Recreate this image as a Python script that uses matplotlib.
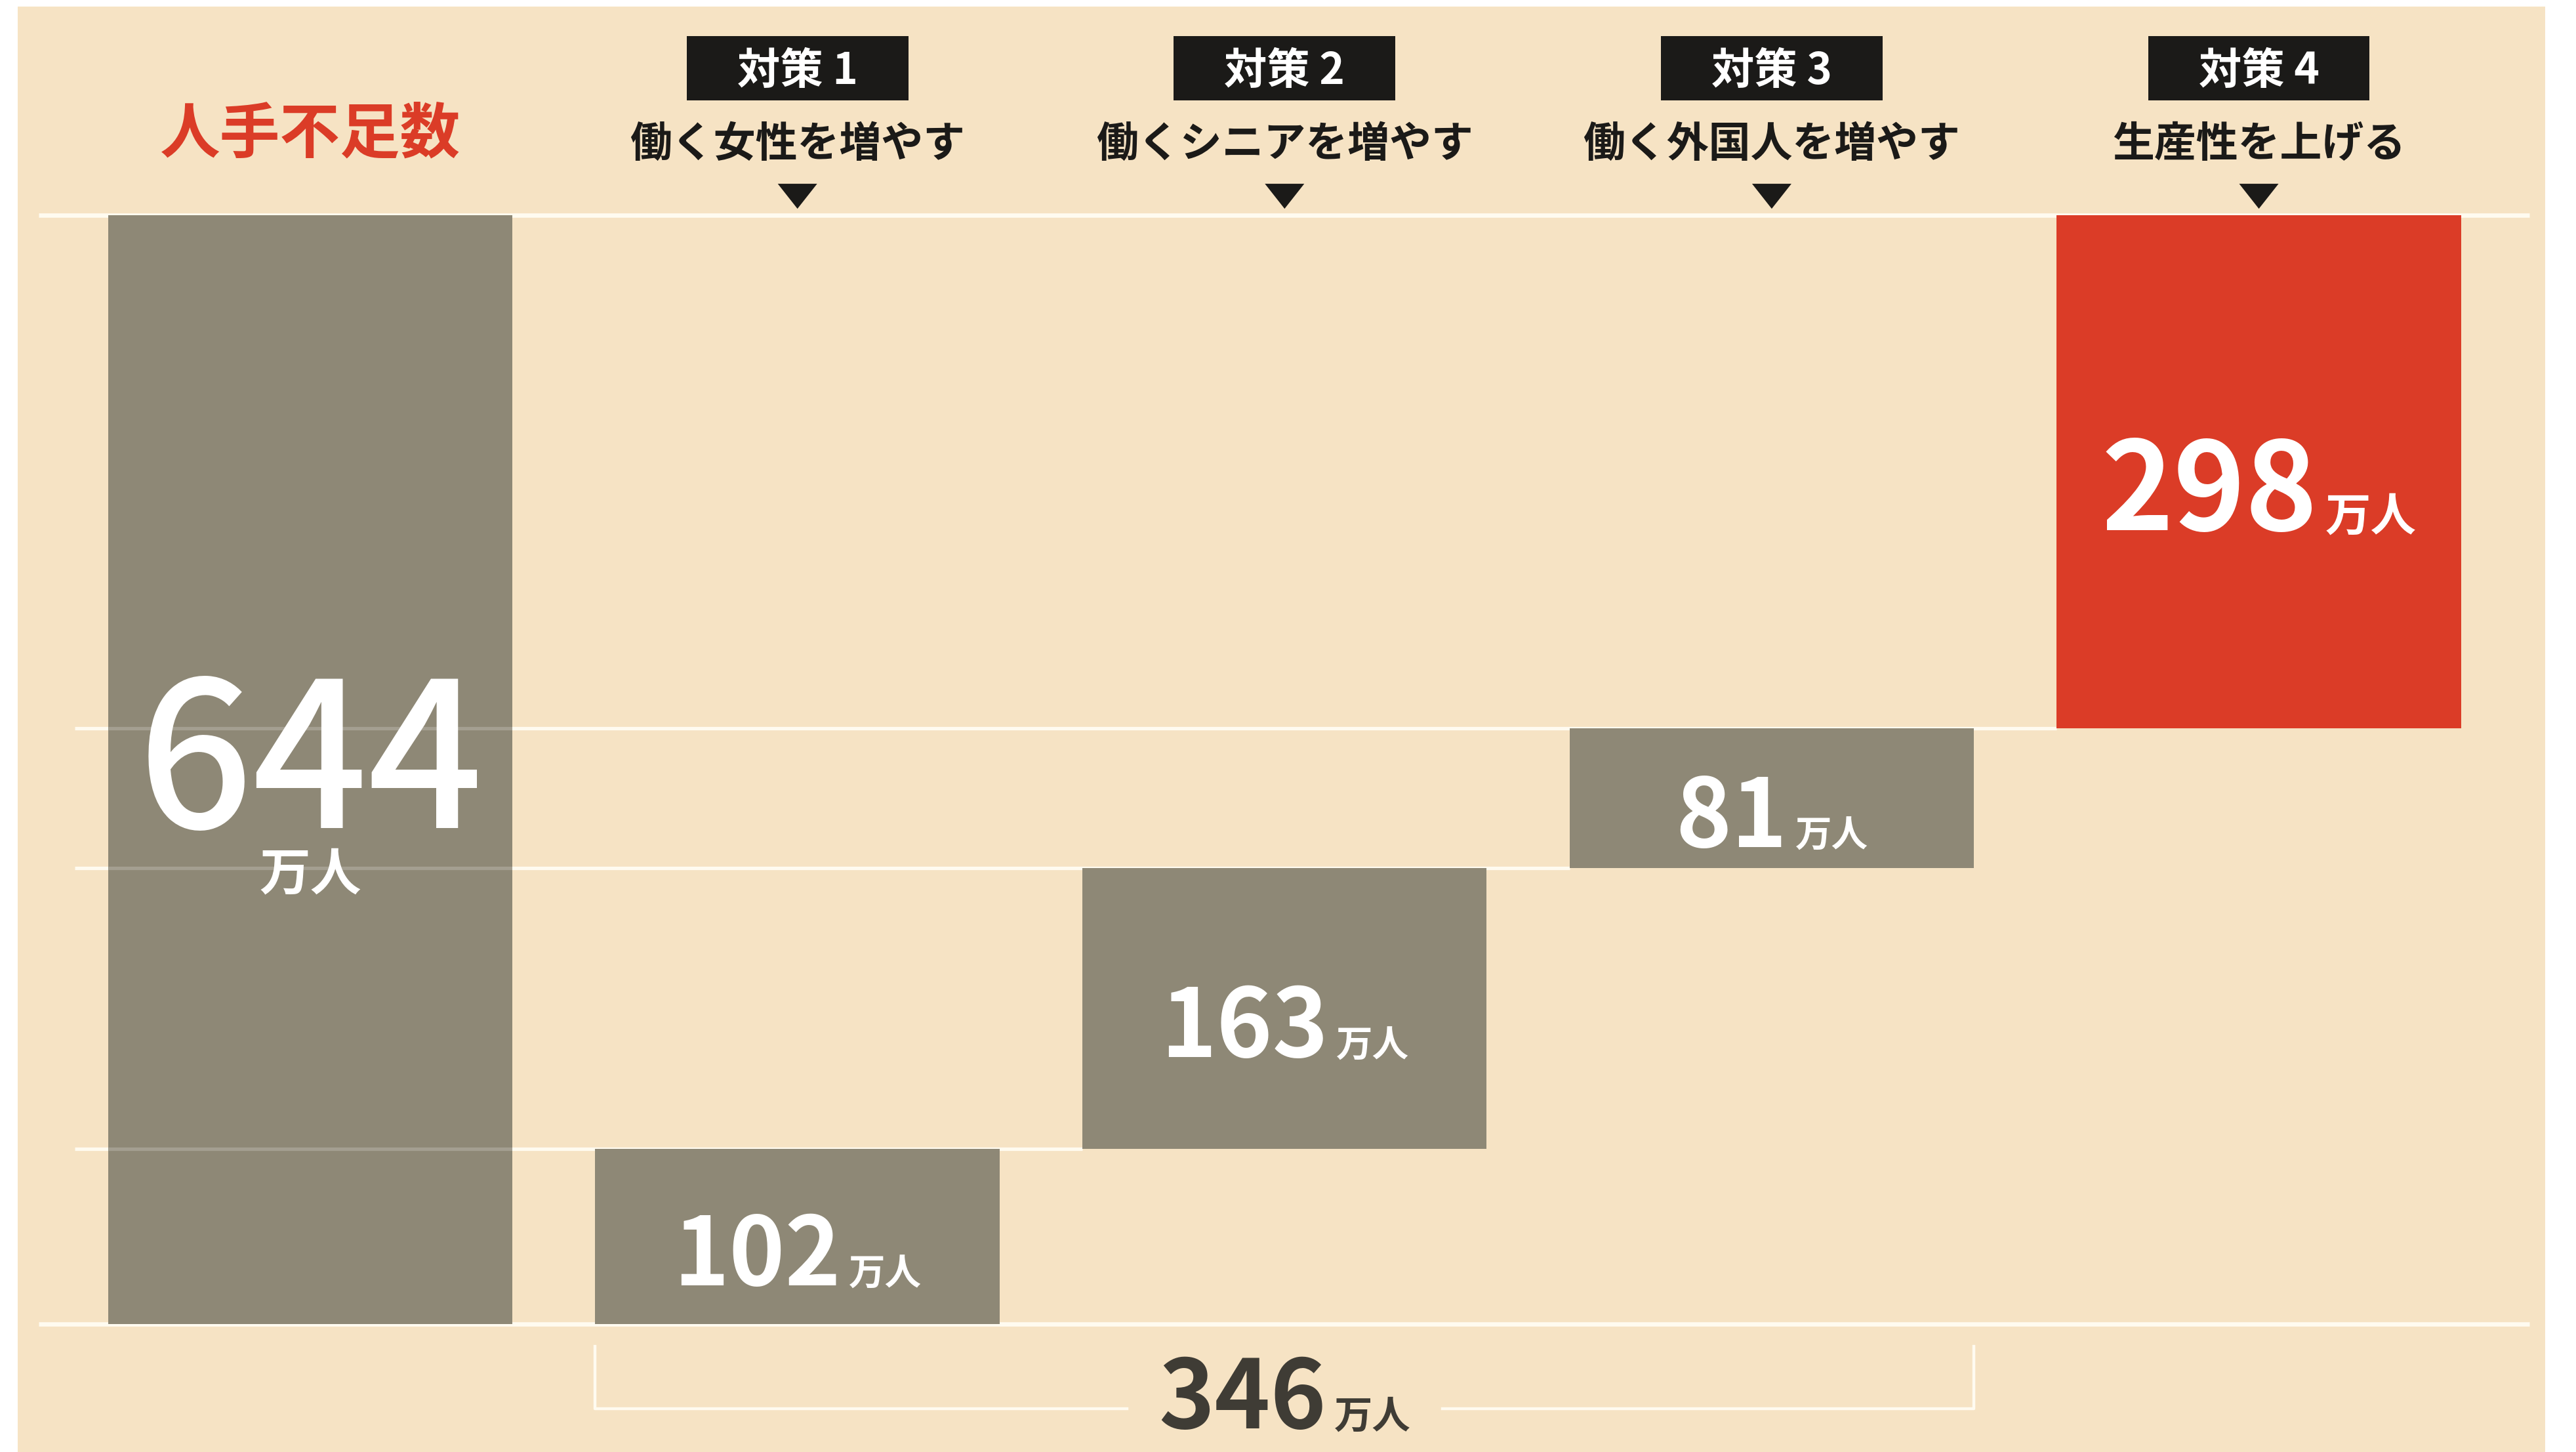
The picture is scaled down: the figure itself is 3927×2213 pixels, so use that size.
"""人手不足数と4つの対策を示すウォーターフォール図"""

import matplotlib.pyplot as plt
import numpy as np
from matplotlib.patches import Polygon, Rectangle

# データ
categories = ["人手不足数", "働く女性を増やす", "働くシニアを増やす", "働く外国人を増やす", "生産性を上げる"]
measure_tags = ["", "対策 1", "対策 2", "対策 3", "対策 4"]
values = [644, 102, 163, 81, 298]
unit = "万人"

W, H, DPI = 3927, 2213, 100

BG = "#F6E3C4"
BAR = "#8E8876"
RED = "#DB3C27"
LINE = "#FFFBF0"
INK = "#1B1A18"
DARK = "#3F3C35"

plt.rcParams["font.family"] = ["Noto Sans CJK JP", "DejaVu Sans"]


def value_label(ax, x, y_mid, num, num_size, unit_size, color, weight, ppu):
    """数字と「万人」をベースライン揃えで並べる（位置は後で中央寄せ）"""
    cap = 0.733 * num_size * DPI / 72 / ppu
    base = y_mid - cap / 2
    t_num = ax.text(x, base, str(num), ha="right", va="baseline", fontsize=num_size,
                    color=color, fontweight=weight, zorder=5)
    t_unit = ax.text(x, base, unit, ha="left", va="baseline", fontsize=unit_size,
                     color=color, fontweight="bold", zorder=5)
    return x, t_num, t_unit


def main() -> None:
    fig = plt.figure(figsize=(W / DPI, H / DPI), dpi=DPI)
    fig.patch.set_facecolor("white")

    ax = fig.add_axes([0, 0, 1, 1])
    ax.set_facecolor("none")
    ax.axis("off")
    ax.set_xlim(-0.637, 4.651)
    ax.set_ylim(-74.1, 769.0)
    ppu = H / (769.0 + 74.1)  # 縦方向 1単位あたりのピクセル

    # 背景（左・上・右に細い白縁）
    ax.add_patch(Rectangle((27 / W, 0), (3880 - 27) / W, 1 - 10 / H,
                           transform=ax.transAxes, facecolor=BG,
                           edgecolor="none", zorder=0))

    x = np.arange(len(values))
    width = 0.83
    steps = values[1:]
    bottoms = [0] + list(np.concatenate([[0], np.cumsum(steps[:-1])]))
    colors = [BAR] * 4 + [RED]
    total = values[0]

    ax.bar(x, values, width=width, bottom=bottoms, color=colors, zorder=2)

    # 上下の枠線
    ax.hlines([0, total], -0.557, 4.556, color=LINE, lw=4.8, zorder=1)
    # 段差の線
    for i in range(2, len(values)):
        level = bottoms[i]
        ax.hlines(level, -0.483, x[i] - width / 2, color=LINE, lw=3.8, zorder=1)
        ax.hlines(level, x[0] - width / 2, x[0] + width / 2, color="white",
                  alpha=0.2, lw=3.8, zorder=3)

    # 見出し
    ax.text(x[0], 690.8, categories[0], ha="center", va="center", fontsize=66,
            fontweight="bold", color=RED)
    for i in range(1, len(values)):
        ax.add_patch(Rectangle((x[i] - 0.2275, 710.7), 0.455, 37.3,
                               facecolor=INK, edgecolor="none", zorder=4))
        ax.text(x[i], 727.6, measure_tags[i], ha="center", va="center", fontsize=47,
                fontweight="bold", color="white", zorder=5)
        ax.text(x[i], 685.0, categories[i], ha="center", va="center", fontsize=46,
                fontweight="bold", color=INK)
        ax.add_patch(Polygon([(x[i] - 0.0404, 662.3), (x[i] + 0.0404, 662.3),
                              (x[i], 647.8)], closed=True, facecolor=INK,
                             edgecolor="none"))

    # 644（人手不足数）
    mid0 = bottoms[0] + values[0] / 2
    cap = 0.733 * 222 * DPI / 72 / ppu
    ax.text(x[0], mid0 + 9.3 - cap / 2, str(values[0]), ha="center", va="baseline",
            fontsize=222, color="white", fontweight="medium", zorder=5)
    ax.text(x[0], mid0 - 61, unit, ha="center", va="center", fontsize=56,
            color="white", fontweight="bold", zorder=5)

    groups = []
    for i in range(1, len(values)):
        mid = bottoms[i] + values[i] / 2
        size = 134 if i == 4 else 104
        usize = 50 if i == 4 else 40
        groups.append(value_label(ax, x[i], mid - 8, values[i], size, usize,
                                  "white", "bold", ppu))

    # 対策1〜3の合計（括弧）
    measure_sum = int(np.sum(values[1:4]))
    xl, xr = x[1] - width / 2, x[3] + width / 2
    xc = (x[1] + x[3]) / 2
    yb = -48.9
    ax.plot([xl, xl, xc - 0.324], [-12.7, yb, yb], color=LINE, lw=3.2, zorder=1)
    ax.plot([xc + 0.324, xr, xr], [yb, yb, -12.7], color=LINE, lw=3.2, zorder=1)
    groups.append(value_label(ax, xc, yb + 8.8, measure_sum, 104, 42, DARK, "bold", ppu))

    # 数字と単位をまとめて中央寄せ
    fig.canvas.draw()
    inv = ax.transData.inverted()
    gap = 12
    for xc_, t_num, t_unit in groups:
        w1 = t_num.get_window_extent().width
        w2 = t_unit.get_window_extent().width
        cx = ax.transData.transform((xc_, 0))[0]
        left = cx - (w1 + gap + w2) / 2
        t_num.set_x(inv.transform((left + w1, 0))[0])
        t_unit.set_x(inv.transform((left + w1 + gap, 0))[0])

    fig.savefig("out.png", dpi=DPI, facecolor=fig.get_facecolor())


if __name__ == "__main__":
    main()
